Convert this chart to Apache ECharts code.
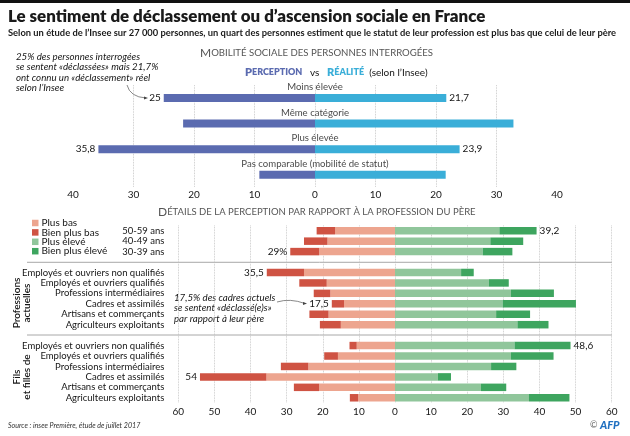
<!DOCTYPE html>
<html>
<head>
<meta charset="utf-8">
<script src="https://cdn.jsdelivr.net/npm/echarts@6/dist/echarts.min.js"></script>
<style>
  html, body { margin: 0; padding: 0; background: #fff; }
  #chart { width: 630px; height: 436px; }
</style>
</head>
<body>
<div id="chart"></div>
<script>
const FONT = 'Lato'
const TEXT = '#151515'

// Mobilité sociale
const mobilityRows = ['Moins élevée', 'Même catégorie', 'Plus élevée', 'Pas comparable (mobilité de statut)']
const perception = [25, 21.8, 35.8, 9.2]
const realite = [21.7, 32.8, 23.9, 21.6]
const perceptionLabels = ['25', '', '35,8', '']
const realiteLabels = ['21,7', '', '23,9', '']

// Détails, null = ligne vide sous les filets
const detailRows = [
  '50-59 ans', '40-49 ans', '30-39 ans', '',
  'Employés et ouvriers non qualifiés', 'Employés et ouvriers qualifiés', 'Professions intermédiaires',
  'Cadres et assimilés', 'Artisans et commerçants', 'Agriculteurs exploitants', '',
  'Employés et ouvriers non qualifiés', 'Employés et ouvriers qualifiés', 'Professions intermédiaires',
  'Cadres et assimilés', 'Artisans et commerçants', 'Agriculteurs exploitants'
]
const plusBas = [16.6, 18.7, 21, null, 25.2, 18.9, 17.9, 14.1, 18.4, 15, null, 10.6, 15.8, 24, 35.6, 21, 10.2]
const bienPlusBas = [5.1, 6.5, 8, null, 10.3, 7.6, 4.6, 3.4, 5.3, 5.8, null, 2, 3.8, 7.6, 18.4, 7, 2.3]
const plusEleve = [28.9, 26.4, 24.3, null, 18.3, 26, 32.1, 29.8, 28, 33.9, null, 33.1, 32.1, 26.6, 11.9, 23.8, 37.1]
const bienPlusEleve = [10.3, 9.1, 8.2, null, 3.5, 5.5, 11.9, 20.3, 9.4, 8.6, null, 15.5, 11.8, 7, 3.6, 7, 11.2]
const basLabels = ['', '', '29%', '', '35,5', '', '', '17,5', '', '', '', '', '', '', '54', '', '']
const eleveLabels = ['39,2', '', '', '', '', '', '', '', '', '', '', '48,6', '', '', '', '', '']

const negative = v => (v === null ? null : -v)

function withLabels(values, labels, position) {
  return values.map((value, i) => ({
    value,
    label: {
      show: !!labels[i],
      formatter: labels[i],
      position,
      distance: 3,
      color: TEXT,
      fontFamily: FONT,
      fontSize: 10
    }
  }))
}

function barSeries(name, data, color, gridIndex, barWidth, stack) {
  return {
    name,
    type: 'bar',
    xAxisIndex: gridIndex,
    yAxisIndex: gridIndex,
    stack,
    data,
    barWidth,
    itemStyle: { color },
    silent: true,
    animation: false
  }
}

function italicNote(text, x, y) {
  return {
    type: 'text',
    x,
    y,
    style: {
      text,
      fontFamily: FONT,
      fontStyle: 'italic',
      fontSize: 9.7,
      lineHeight: 10.2,
      fill: TEXT,
      textVerticalAlign: 'top'
    }
  }
}

function arrow(x1, y1, cx, cy, x2, y2) {
  return [
    {
      type: 'bezierCurve',
      shape: { x1, y1, cpx1: cx, cpy1: cy, x2, y2 },
      style: { stroke: '#555', lineWidth: 0.7, fill: null }
    },
    {
      type: 'polygon',
      shape: { points: [[x2 + 2, y2], [x2 - 2, y2 - 1.6], [x2 - 2, y2 + 1.6]] },
      style: { fill: '#444' }
    }
  ]
}

function rule(y) {
  return {
    type: 'line',
    shape: { x1: 27, y1: y, x2: 612, y2: y },
    style: { stroke: '#a8a8a8', lineWidth: 1 }
  }
}

function sideTitle(text, x, y) {
  return {
    type: 'text',
    x,
    y,
    rotation: Math.PI / 2,
    style: {
      text,
      fontFamily: FONT,
      fontSize: 10,
      fontWeight: 600,
      lineHeight: 10.5,
      fill: TEXT,
      textAlign: 'center',
      textVerticalAlign: 'middle'
    }
  }
}

function capsRich(smallSize) {
  return {
    big: { fontFamily: FONT, fontSize: 12, fontWeight: 'normal', color: '#555' },
    small: { fontFamily: FONT, fontSize: smallSize, fontWeight: 'normal', color: '#555' }
  }
}

const valueAxisBase = {
  type: 'value',
  axisLine: { show: false },
  axisTick: { show: false },
  axisLabel: {
    color: TEXT,
    fontFamily: FONT,
    fontSize: 10,
    formatter: v => String(Math.abs(v))
  },
  splitLine: { show: true, lineStyle: { color: '#bdbdbd', type: 'dotted', width: 0.8 } }
}

const chart = echarts.init(document.getElementById('chart'), null, { renderer: 'canvas' })

chart.setOption({
  animation: false,
  backgroundColor: '#fff',
  title: [
    {
      text: 'Le sentiment de déclassement ou d’ascension sociale en France',
      left: 8,
      top: 8,
      padding: 0,
      textStyle: { fontFamily: FONT, fontSize: 16.9, fontWeight: 800, color: '#1a1a1a' }
    },
    {
      text: 'Selon un étude de l’Insee sur 27 000 personnes, un quart des personnes estiment que le statut de leur profession est plus bas que celui de leur père',
      left: 8,
      top: 28,
      padding: 0,
      textStyle: { fontFamily: FONT, fontSize: 9.35, fontWeight: 700, color: '#1a1a1a' }
    },
    {
      text: '{big|M}{small|OBILITÉ SOCIALE DES PERSONNES INTERROGÉES}',
      left: 200,
      top: 47,
      padding: 0,
      textStyle: { rich: capsRich(9.6) }
    },
    {
      text: '{p1|P}{p2|ERCEPTION}{vs|   vs   }{r1|R}{r2|ÉALITÉ}{vs|  (selon l’Insee)}',
      left: 245,
      top: 67,
      padding: 0,
      textStyle: {
        rich: {
          p1: { fontFamily: FONT, fontSize: 11, fontWeight: 800, color: '#5b6bb0' },
          p2: { fontFamily: FONT, fontSize: 9, fontWeight: 800, color: '#5b6bb0' },
          r1: { fontFamily: FONT, fontSize: 11, fontWeight: 800, color: '#3aaed8' },
          r2: { fontFamily: FONT, fontSize: 9, fontWeight: 800, color: '#3aaed8' },
          vs: { fontFamily: FONT, fontSize: 10, fontWeight: 'normal', color: TEXT }
        }
      }
    },
    {
      text: '{big|D}{small|ÉTAILS DE LA PERCEPTION PAR RAPPORT À LA PROFESSION DU PÈRE}',
      left: 158,
      top: 206,
      padding: 0,
      textStyle: { rich: capsRich(9.5) }
    },
    {
      text: 'Source : insee Première, étude de juillet 2017',
      left: 8,
      top: 422,
      padding: 0,
      textStyle: { fontFamily: FONT, fontStyle: 'italic', fontSize: 7.1, fontWeight: 'normal', color: '#333' }
    }
  ],
  legend: {
    data: ['Plus bas', 'Bien plus bas', 'Plus élevé', 'Bien plus élevé'],
    orient: 'vertical',
    left: 32,
    top: 218,
    padding: 0,
    itemWidth: 6.5,
    itemHeight: 6.5,
    itemGap: -0.6,
    icon: 'rect',
    selectedMode: false,
    textStyle: { fontFamily: FONT, fontSize: 10, lineHeight: 6, height: 6, color: TEXT, padding: [0, 0, 0, -2] }
  },
  grid: [
    { left: 73, right: 73, top: 85.2, height: 102.4 },
    { left: 178.3, right: 18.3, top: 225.5, height: 177.5 }
  ],
  xAxis: [
    {
      ...valueAxisBase,
      gridIndex: 0,
      min: -40,
      max: 40,
      interval: 10,
      splitLine: { ...valueAxisBase.splitLine, showMinLine: false, showMaxLine: false },
      axisLabel: { ...valueAxisBase.axisLabel, margin: 2 }
    },
    {
      ...valueAxisBase,
      gridIndex: 1,
      min: -60,
      max: 60,
      interval: 10,
      axisLabel: { ...valueAxisBase.axisLabel, margin: 4 }
    }
  ],
  yAxis: [
    {
      type: 'category',
      gridIndex: 0,
      inverse: true,
      data: mobilityRows,
      axisLine: { show: false },
      axisTick: { show: false },
      axisLabel: { show: false }
    },
    {
      type: 'category',
      gridIndex: 1,
      inverse: true,
      data: detailRows,
      axisLine: { show: false },
      axisTick: { show: false },
      axisLabel: {
        interval: 0,
        margin: 14,
        color: TEXT,
        fontFamily: FONT,
        fontSize: 9.5
      }
    }
  ],
  series: [
    barSeries('Perception', withLabels(perception.map(negative), perceptionLabels, 'left'), '#5b6bb0', 0, 8, 'mobility'),
    barSeries('Réalité', withLabels(realite, realiteLabels, 'right'), '#3aaed8', 0, 8, 'mobility'),
    {
      // libellés de lignes centrés au-dessus des barres
      type: 'scatter',
      xAxisIndex: 0,
      yAxisIndex: 0,
      symbolSize: 1,
      itemStyle: { color: 'transparent' },
      silent: true,
      data: mobilityRows.map(name => [0, name]),
      label: {
        show: true,
        position: 'inside',
        offset: [0, -11],
        formatter: p => p.value[1],
        color: TEXT,
        fontFamily: FONT,
        fontSize: 9.6
      }
    },
    barSeries('Plus bas', plusBas.map(negative), '#eda58f', 1, 7.5, 'detail'),
    barSeries('Bien plus bas', withLabels(bienPlusBas.map(negative), basLabels, 'left'), '#cf5343', 1, 7.5, 'detail'),
    barSeries('Plus élevé', plusEleve, '#90c69b', 1, 7.5, 'detail'),
    barSeries('Bien plus élevé', withLabels(bienPlusEleve, eleveLabels, 'right'), '#3ea55f', 1, 7.5, 'detail')
  ],
  graphic: [
    { type: 'rect', shape: { x: 0, y: 0, width: 630, height: 3 }, style: { fill: '#111' } },
    rule(262.3),
    rule(335),
    sideTitle('Professions\nactuelles', 22, 303),
    sideTitle('Fils\net filles de', 22, 377),
    italicNote('25% des personnes interrogées\nse sentent «déclassées» mais 21,7%\nont connu un «déclassement» réel\nselon l’Insee', 16, 52),
    italicNote('17,5% des cadres actuels\nse sentent «déclassé(e)s»\npar rapport à leur père', 174, 293),
    ...arrow(127, 85, 130, 97, 146, 98),
    ...arrow(277, 302, 290, 298, 305, 303.5),
    {
      type: 'text',
      x: 590,
      y: 425.5,
      style: {
        text: '©',
        fontFamily: FONT,
        fontSize: 9,
        fill: '#666',
        textVerticalAlign: 'middle'
      }
    },
    {
      type: 'text',
      x: 600,
      y: 425.5,
      style: {
        text: 'AFP',
        fontFamily: FONT,
        fontSize: 11,
        fontWeight: 900,
        fontStyle: 'italic',
        fill: '#1f6fc0',
        textVerticalAlign: 'middle'
      }
    }
  ]
})
</script>
</body>
</html>
